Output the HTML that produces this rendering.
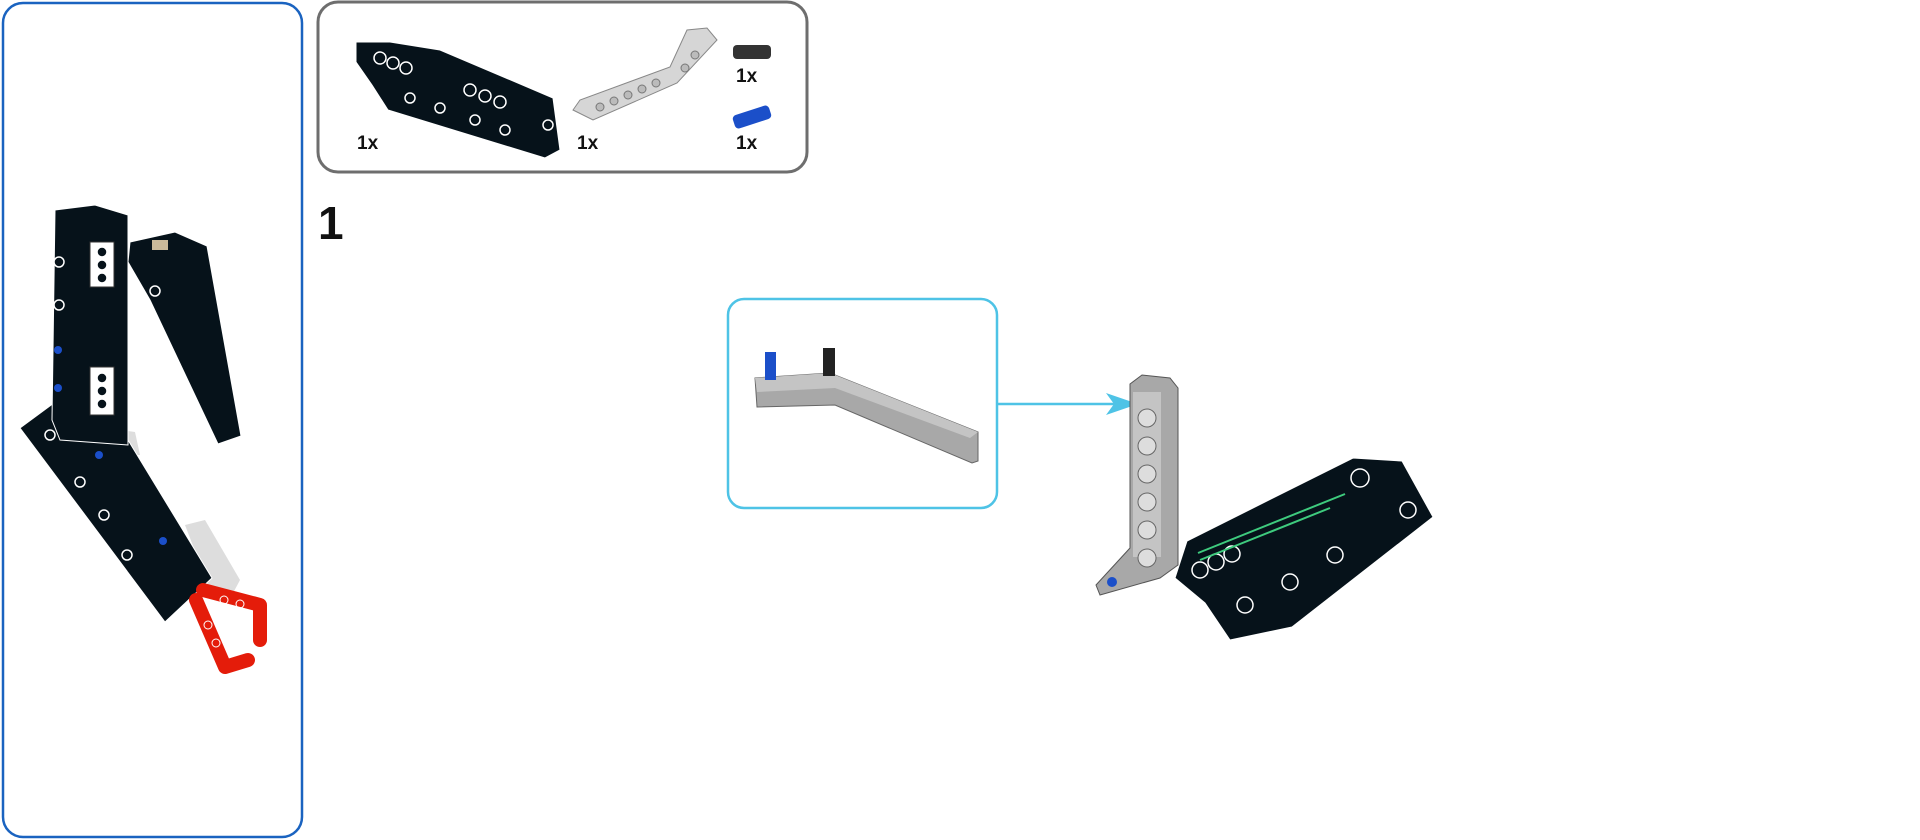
<!DOCTYPE html>
<html><head><meta charset="utf-8"><style>
html,body{margin:0;padding:0;background:#fff;}
body{width:1920px;height:840px;position:relative;overflow:hidden;font-family:"Liberation Sans",Arial,sans-serif;}
.t{position:absolute;font-weight:bold;font-size:19px;color:#111;}
</style></head><body>
<svg width="1920" height="840" style="position:absolute;left:0;top:0">
<rect x="3" y="3" width="299" height="834" rx="20" fill="none" stroke="#1a63c0" stroke-width="2.5"/>
<rect x="318" y="2" width="489" height="170" rx="20" fill="none" stroke="#6e6e6e" stroke-width="3"/>
<rect x="728" y="299" width="269" height="209" rx="16" fill="none" stroke="#4ec3e6" stroke-width="2.5"/>
<line x1="997" y1="404" x2="1115" y2="404" stroke="#4ec3e6" stroke-width="2.5"/>
<polygon points="1138,404 1106,393 1114,404 1106,415" fill="#4ec3e6"/>

<!-- left panel model -->
<polygon points="120,430 135,432 140,455 125,455" fill="#ddd"/>
<polygon points="185,525 205,520 240,580 232,595 210,590" fill="#ddd"/>
<polygon points="130,242 175,232 207,246 241,436 218,444 150,300 128,262" fill="#06121a" stroke="#fff" stroke-width="1"/>
<polygon points="20,428 58,400 128,440 212,578 165,622" fill="#06121a" stroke="#fff" stroke-width="1"/>
<polygon points="55,210 95,205 128,215 128,445 60,440 52,420" fill="#06121a" stroke="#fff" stroke-width="1"/>
<rect x="90" y="242" width="24" height="45" fill="#fff" stroke="#333"/>
<rect x="90" y="367" width="24" height="48" fill="#fff" stroke="#333"/>
<g fill="#06121a" stroke="#fff" stroke-width="1.5"><circle cx="102" cy="252" r="5"/><circle cx="102" cy="265" r="5"/><circle cx="102" cy="278" r="5"/><circle cx="102" cy="378" r="5"/><circle cx="102" cy="391" r="5"/><circle cx="102" cy="404" r="5"/>
<circle cx="59" cy="262" r="5"/><circle cx="59" cy="305" r="5"/><circle cx="50" cy="435" r="5"/><circle cx="80" cy="482" r="5"/><circle cx="104" cy="515" r="5"/><circle cx="127" cy="555" r="5"/><circle cx="155" cy="291" r="5"/></g>
<circle cx="58" cy="350" r="4" fill="#1b4fc9"/><circle cx="58" cy="388" r="4" fill="#1b4fc9"/>
<circle cx="99" cy="455" r="4" fill="#1b4fc9"/><circle cx="163" cy="541" r="4" fill="#1b4fc9"/>
<rect x="152" y="240" width="16" height="10" fill="#c9b99a"/>
<g fill="none" stroke="#e41c0a" stroke-width="14" stroke-linecap="round" stroke-linejoin="round">
<polyline points="196,600 225,667 248,660"/><polyline points="203,590 260,605 260,640"/>
</g>
<g fill="none" stroke="#fff" stroke-width="1"><circle cx="208" cy="625" r="4"/><circle cx="216" cy="643" r="4"/><circle cx="224" cy="600" r="4"/><circle cx="240" cy="604" r="4"/></g>
<!-- parts -->
<polygon points="356,42 390,42 440,50 553,98 560,150 545,158 388,110 372,85 356,62" fill="#06121a" stroke="#fff" stroke-width="1"/>
<g fill="none" stroke="#fff" stroke-width="1.5"><circle cx="380" cy="58" r="6"/><circle cx="393" cy="63" r="6"/><circle cx="406" cy="68" r="6"/><circle cx="470" cy="90" r="6"/><circle cx="485" cy="96" r="6"/><circle cx="500" cy="102" r="6"/><circle cx="410" cy="98" r="5"/><circle cx="440" cy="108" r="5"/><circle cx="475" cy="120" r="5"/><circle cx="505" cy="130" r="5"/><circle cx="548" cy="125" r="5"/></g>
<polygon points="573,110 593,120 677,83 717,40 707,28 687,30 670,67 580,100" fill="#d6d6d6" stroke="#888" stroke-width="1"/>
<g fill="#bbb" stroke="#777" stroke-width="1"><circle cx="600" cy="107" r="4"/><circle cx="614" cy="101" r="4"/><circle cx="628" cy="95" r="4"/><circle cx="642" cy="89" r="4"/><circle cx="656" cy="83" r="4"/><circle cx="685" cy="68" r="4"/><circle cx="695" cy="55" r="4"/></g>
<rect x="733" y="45" width="38" height="14" rx="4" fill="#333"/>
<rect x="733" y="110" width="38" height="14" rx="4" fill="#1b4fc9" transform="rotate(-18 752 117)"/>
<!-- callout content -->
<polygon points="755,378 830,373 978,432 978,461 972,463 835,405 757,407" fill="#a8a8a8" stroke="#666" stroke-width="1"/>
<polygon points="755,378 830,373 978,432 970,438 835,388 757,392" fill="#c4c4c4"/>
<rect x="765" y="352" width="11" height="28" fill="#1b4fc9"/>
<rect x="823" y="348" width="12" height="28" fill="#222"/>
<!-- main model -->
<polygon points="1130,384 1142,375 1170,378 1178,388 1178,565 1160,578 1100,595 1096,585 1130,548" fill="#a8a8a8" stroke="#555" stroke-width="1"/>
<rect x="1133" y="392" width="28" height="165" fill="#c4c4c4"/>
<g fill="#ddd" stroke="#666" stroke-width="1"><circle cx="1147" cy="418" r="9"/><circle cx="1147" cy="446" r="9"/><circle cx="1147" cy="474" r="9"/><circle cx="1147" cy="502" r="9"/><circle cx="1147" cy="530" r="9"/><circle cx="1147" cy="558" r="9"/></g>
<circle cx="1112" cy="582" r="5" fill="#1b4fc9"/>
<polygon points="1187,541 1353,458 1402,461 1433,517 1292,627 1230,640 1205,603 1175,578" fill="#06121a" stroke="#fff" stroke-width="1"/>
<g fill="none" stroke="#fff" stroke-width="1.5"><circle cx="1200" cy="570" r="8"/><circle cx="1216" cy="562" r="8"/><circle cx="1232" cy="554" r="8"/><circle cx="1360" cy="478" r="9"/><circle cx="1408" cy="510" r="8"/><circle cx="1245" cy="605" r="8"/><circle cx="1290" cy="582" r="8"/><circle cx="1335" cy="555" r="8"/></g>
<g stroke="#3ecb7e" stroke-width="2"><line x1="1198" y1="553" x2="1345" y2="494"/><line x1="1200" y1="560" x2="1330" y2="508"/></g>
</svg>
<div class="t" style="left:357px;top:133px">1x</div>
<div class="t" style="left:577px;top:133px">1x</div>
<div class="t" style="left:736px;top:66px">1x</div>
<div class="t" style="left:736px;top:133px">1x</div>
<div class="t" style="left:318px;top:196px;font-size:46px;font-weight:900;">1</div>
</body></html>
